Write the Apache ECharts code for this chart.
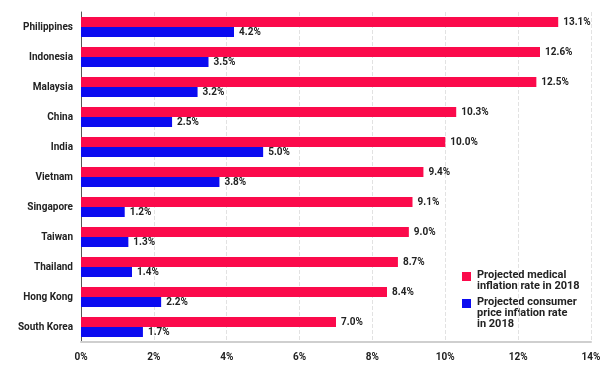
<!DOCTYPE html>
<html><head><meta charset="utf-8">
<script src="https://cdn.jsdelivr.net/npm/echarts@6/dist/echarts.min.js"></script>
<style>html,body{margin:0;padding:0;background:#fff}#c{width:613px;height:368px}</style>
</head><body><div id="c"></div>
<script>
const categories = ['Philippines','Indonesia','Malaysia','China','India','Vietnam','Singapore','Taiwan','Thailand','Hong Kong','South Korea'];
const medical = [13.1,12.6,12.5,10.3,10.0,9.4,9.1,9.0,8.7,8.4,7.0];
const consumer = [4.2,3.5,3.2,2.5,5.0,3.8,1.2,1.3,1.4,2.2,1.7];
const xTicks = [0,2,4,6,8,10,12,14];
const seriesNames = ['Projected medical\ninflation rate in 2018','Projected consumer\nprice inflation rate\nin 2018'];
const RED = '#fb0a4b', BLUE = '#0b0bf0';
const FONT = 'Roboto';
const chart = echarts.init(document.getElementById('c'));
const lbl = {show:true, position:'right', distance:5, color:'#222', fontFamily:FONT, fontWeight:'bold', fontSize:10,
  formatter: p => p.value.toFixed(1) + '%'};
chart.setOption({
  animation:false,
  grid:{left:81, right:22, top:12, bottom:26},
  xAxis:{type:'value', min:xTicks[0], max:xTicks[xTicks.length-1], interval:2,
    axisLine:{show:true, lineStyle:{color:'#cfcfcf', width:2}},
    axisTick:{show:false},
    axisLabel:{color:'#222', fontFamily:FONT, fontWeight:'bold', fontSize:10, margin:10, formatter:'{value}%'},
    splitLine:{show:true, lineStyle:{color:'#e2e2e2', type:'dashed', width:1}}},
  yAxis:{type:'category', data:categories, inverse:true,
    axisLine:{show:true, lineStyle:{color:'#555', width:1}},
    axisTick:{show:false},
    axisLabel:{color:'#222', fontFamily:FONT, fontWeight:'bold', fontSize:10, margin:8}},
  series:[
    {name:seriesNames[0], type:'bar', data:medical, barWidth:10, barGap:'0%', itemStyle:{color:RED}, label:lbl},
    {name:seriesNames[1], type:'bar', data:consumer, barWidth:10, barGap:'0%', itemStyle:{color:BLUE}, label:lbl}
  ],
  graphic:[
    {type:'rect', left:462, top:272, shape:{width:9, height:9}, style:{fill:RED}},
    {type:'text', left:477, top:270, style:{text:seriesNames[0], fill:'#222', font:'bold 11px '+FONT, lineHeight:11}},
    {type:'rect', left:462, top:299, shape:{width:9, height:9}, style:{fill:BLUE}},
    {type:'text', left:477, top:297, style:{text:seriesNames[1], fill:'#222', font:'bold 11px '+FONT, lineHeight:11}}
  ]
});
</script></body></html>
